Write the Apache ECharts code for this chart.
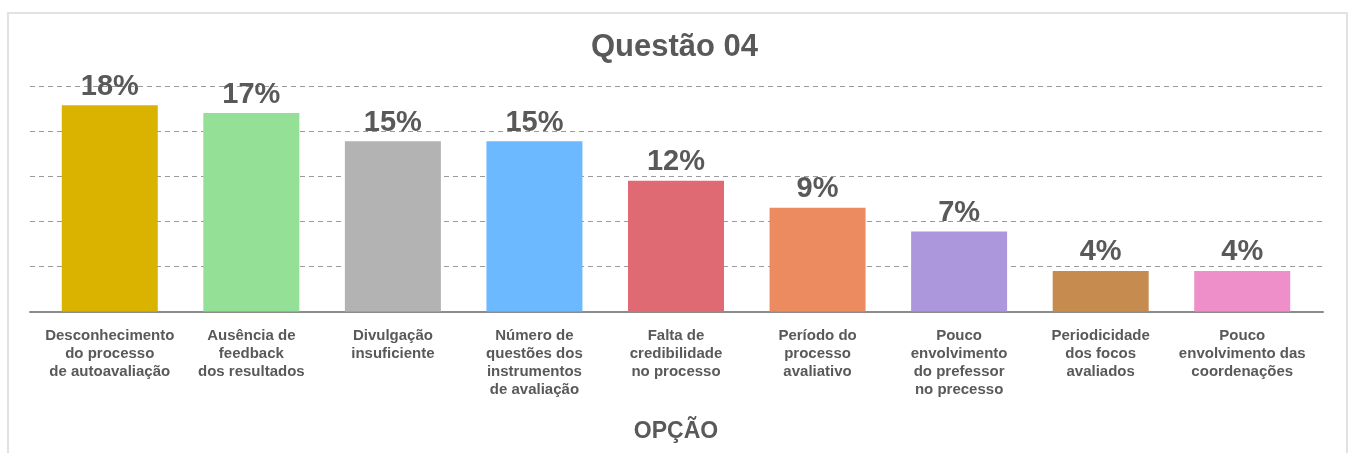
<!DOCTYPE html>
<html>
<head>
<meta charset="utf-8">
<script src="https://cdn.jsdelivr.net/npm/echarts@6/dist/echarts.min.js"></script>
<style>
  html, body { margin: 0; padding: 0; background: #fff; }
  #frame { position: absolute; left: 7px; top: 12px; width: 1341px; height: 460px; border: 2px solid #e2e2e2; box-sizing: border-box; }
  #chart { position: absolute; left: 0; top: 0; width: 1349px; height: 453px; }
</style>
</head>
<body>
<div id="frame"></div>
<div id="chart"></div>
<script>
// categorias (eixo x)
const categories = [
  'Desconhecimento\ndo processo\nde autoavaliação',
  'Ausência de\nfeedback\ndos resultados',
  'Divulgação\ninsuficiente',
  'Número de\nquestões dos\ninstrumentos\nde avaliação',
  'Falta de\ncredibilidade\nno processo',
  'Período do\nprocesso\navaliativo',
  'Pouco\nenvolvimento\ndo prefessor\nno precesso',
  'Periodicidade\ndos focos\navaliados',
  'Pouco\nenvolvimento das\ncoordenações'
]
// altura das barras (%)
const values = [18.3, 17.6, 15.1, 15.1, 11.6, 9.2, 7.1, 3.6, 3.6]
// rótulos mostrados em cima das barras
const valueLabels = ['18%', '17%', '15%', '15%', '12%', '9%', '7%', '4%', '4%']
const barColors = ['#D9B300', '#93E096', '#B3B3B3', '#6DB9FF', '#DF6A73', '#EC8B5F', '#AC96DC', '#C68B4E', '#EE8FC9']

const chart = echarts.init(document.getElementById('chart'))
const textColor = '#595959'
const font = '"Liberation Sans", Arial, sans-serif'

const option = {
  animation: false,
  textStyle: { fontFamily: font },
  title: {
    text: 'Questão 04',
    left: 'center',
    top: 27,
    textStyle: { fontSize: 31, fontWeight: 'bold', color: textColor, fontFamily: font }
  },
  grid: [
    // grade de fundo (linhas tracejadas e eixo)
    { left: 30, right: 26, top: 86, bottom: 141.5 },
    // barras
    { left: 39, right: 36, top: 86, bottom: 141.5 }
  ],
  xAxis: [
    {
      gridIndex: 0,
      type: 'value',
      min: 0,
      max: 1,
      axisLine: { show: true, onZero: false, lineStyle: { color: '#8c8c8c', width: 2 } },
      axisTick: { show: false },
      axisLabel: { show: false },
      splitLine: { show: false }
    },
    {
      gridIndex: 1,
      type: 'category',
      data: categories,
      axisLine: { show: false },
      axisTick: { show: false },
      axisLabel: {
        interval: 0,
        margin: 15,
        color: textColor,
        fontSize: 15,
        fontWeight: 'bold',
        lineHeight: 18,
        fontFamily: font
      },
      name: 'OPÇÃO',
      nameLocation: 'middle',
      nameGap: 109,
      nameTextStyle: { fontSize: 23, fontWeight: 'bold', color: textColor, fontFamily: font }
    }
  ],
  yAxis: [
    {
      gridIndex: 0,
      type: 'value',
      min: 0,
      max: 20,
      interval: 4,
      axisLine: { show: false },
      axisTick: { show: false },
      axisLabel: { show: false },
      splitLine: { lineStyle: { color: '#9a9a9a', type: [5, 4], width: 1 } }
    },
    {
      gridIndex: 1,
      type: 'value',
      min: 0,
      max: 20,
      show: false
    }
  ],
  series: [
    {
      type: 'bar',
      xAxisIndex: 1,
      yAxisIndex: 1,
      barWidth: 96,
      data: values.map((v, i) => ({ value: v, itemStyle: { color: barColors[i] } })),
      label: {
        show: true,
        position: 'top',
        distance: 4,
        formatter: p => valueLabels[p.dataIndex],
        color: textColor,
        fontSize: 29,
        fontWeight: 'bold',
        fontFamily: font
      }
    }
  ]
}
chart.setOption(option)
</script>
</body>
</html>
